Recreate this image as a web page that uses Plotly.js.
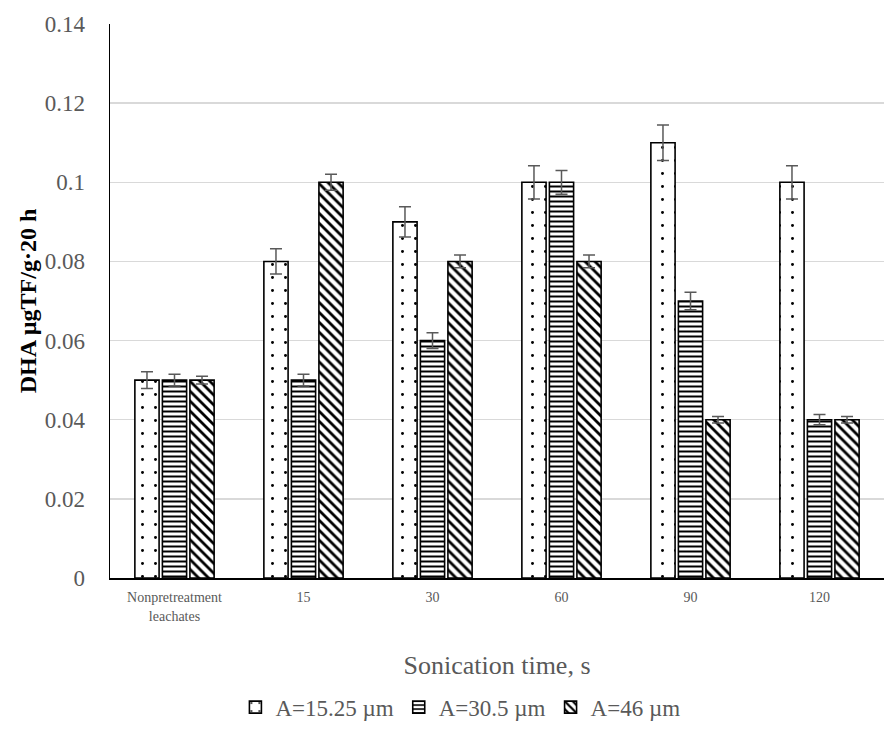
<!DOCTYPE html>
<html>
<head>
<meta charset="utf-8">
<script src="https://cdn.plot.ly/plotly-3.0.1.min.js"></script>
<style>body{margin:0;padding:0;background:#fff;} #chart{width:894px;height:729px;}</style>
</head>
<body>
<div id="chart"></div>
<script>
const categories = ["Nonpretreatment<br>leachates", "15", "30", "60", "90", "120"];
const seriesNames = ["A=15.25 µm", "A=30.5 µm", "A=46 µm"];
const valsA15 = [0.05, 0.08, 0.09, 0.10, 0.11, 0.10];
const valsA30 = [0.05, 0.05, 0.06, 0.10, 0.07, 0.04];
const valsA46 = [0.05, 0.10, 0.08, 0.08, 0.04, 0.04];
const errA15 = [0.0021, 0.0032, 0.0038, 0.0042, 0.0045, 0.0042];
const errA30 = [0.0015, 0.0015, 0.0020, 0.0030, 0.0022, 0.0013];
const errA46 = [0.0010, 0.0020, 0.0016, 0.0016, 0.0008, 0.0008];
const yTicks = [0, 0.02, 0.04, 0.06, 0.08, 0.1, 0.12, 0.14];

const patterns = [".", "-", "\\"];
const allVals = [valsA15, valsA30, valsA46];
const allErr = [errA15, errA30, errA46];

const traces = allVals.map((v, i) => ({
  type: "bar",
  name: seriesNames[i],
  x: categories,
  y: v,
  marker: {
    color: "#ffffff",
    line: {color: "#000000", width: 1.6},
    pattern: {shape: patterns[i], fgcolor: "#000000", bgcolor: "#ffffff",
              size: i === 0 ? 13 : (i === 1 ? 5 : 7), solidity: i === 0 ? 0.04 : 0.4}
  },
  error_y: {type: "data", array: allErr[i], visible: true, color: "#595959", thickness: 1.5, width: 6}
}));

const layout = {
  width: 894, height: 729,
  margin: {l: 110, r: 10, t: 24, b: 151, autoexpand: false},
  paper_bgcolor: "#ffffff", plot_bgcolor: "#ffffff",
  barmode: "group", bargap: 0.36, bargroupgap: 0.12,
  font: {family: "Liberation Serif, Times New Roman, serif", color: "#595959"},
  showlegend: true,
  legend: {orientation: "h", xref: "container", x: 0.515, xanchor: "center", yref: "container", y: 0.03, yanchor: "middle",
           font: {size: 23, color: "#595959"}, itemwidth: 30, traceorder: "normal"},
  xaxis: {
    type: "category", automargin: false,
    tickfont: {size: 14, color: "#595959"},
    showline: true, linecolor: "#000000", linewidth: 1.5,
    ticks: "", showgrid: false, ticklabelstandoff: 6,
    title: {text: "Sonication time, s", font: {size: 26, color: "#595959"}, standoff: 33}
  },
  yaxis: {
    range: [0, 0.14], automargin: false,
    tickvals: yTicks,
    ticktext: yTicks.map(t => String(t)),
    tickfont: {size: 23, color: "#595959"},
    showline: true, linecolor: "#000000", linewidth: 1.5,
    showgrid: true, gridcolor: "#d9d9d9", gridwidth: 1.5,
    zeroline: false, ticks: "", ticklabelstandoff: 19,
    title: {text: "<b>DHA µgTF/g·20 h</b>", font: {size: 24, color: "#000000"}, standoff: 1}
  }
};

Plotly.newPlot("chart", traces, layout, {displayModeBar: false, staticPlot: true});
</script>
</body>
</html>
